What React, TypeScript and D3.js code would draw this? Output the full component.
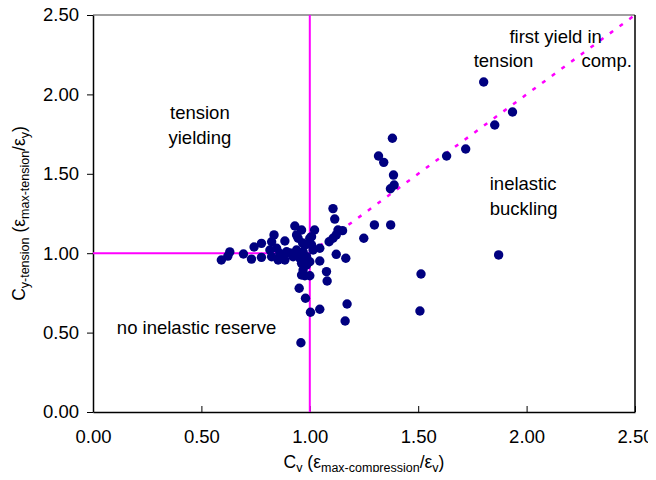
import { useEffect, useRef } from "react";
import * as d3 from "d3";

const W = 656;
const H = 480;
const M = { top: 15, right: 21, bottom: 68, left: 93 };
const IW = W - M.left - M.right;
const IH = H - M.top - M.bottom;

const FONT = '"Liberation Sans", Arial, sans-serif';
const DOT = "#000080";
const MAGENTA = "#FF00FF";

const TICKS = [0, 0.5, 1, 1.5, 2, 2.5];

// C_y (compression) values
const CY_COMP = [
  0.592, 0.631, 0.622, 0.694, 0.731, 0.743, 0.777, 0.777, 0.824, 0.835,
  0.816, 0.824, 0.854, 0.885, 0.847, 0.893, 0.862, 0.885, 0.923, 0.931,
  0.962, 0.939, 0.946, 1.008, 0.977, 1.008, 0.939, 0.969, 0.954, 0.985,
  1.015, 1.0, 0.969, 0.908, 0.946, 0.962, 0.985, 0.969, 1.0, 0.962,
  0.951, 0.98, 1.003, 1.046, 0.959, 1.046, 1.077, 1.08, 1.122, 1.166,
  1.046, 1.089, 1.107, 1.13, 1.151, 1.107, 1.115, 1.249, 1.298, 1.373,
  1.381, 1.317, 1.341, 1.386, 1.389, 1.372, 1.172, 1.163, 1.513, 1.508,
  1.631, 1.719, 1.853, 1.802, 1.935, 1.871, 1.022, 0.877, 1.0, 0.967,
  0.977, 1.122,
];

// C_y (tension) values
const CY_TENS = [
  0.957, 1.008, 0.982, 0.995, 0.963, 1.039, 1.062, 0.974, 1.072, 1.115,
  1.02, 0.978, 0.957, 1.077, 1.031, 1.009, 0.999, 0.957, 0.978, 1.171,
  1.146, 1.115, 1.094, 1.104, 1.052, 1.052, 1.02, 1.009, 0.968, 0.978,
  1.02, 0.946, 0.946, 1.001, 0.993, 0.936, 0.926, 0.894, 0.858, 0.863,
  0.779, 0.716, 0.628, 0.647, 0.436, 0.951, 0.884, 0.825, 0.993, 0.968,
  1.031, 1.072, 1.094, 1.146, 1.142, 1.281, 1.215, 1.094, 1.178, 1.178,
  1.724, 1.612, 1.572, 1.492, 1.429, 1.406, 0.68, 0.573, 0.869, 0.636,
  1.612, 1.656, 1.807, 2.078, 1.889, 0.989, 1.146, 0.968, 1.094, 1.064,
  0.858, 1.115,
];

// reference lines: [x1, y1, x2, y2, dashed]
const REF_LINES: [number, number, number, number, boolean][] = [
  [0, 1, 1, 1, false],
  [1, 0, 1, 2.5, false],
  [1, 1, 2.5, 2.5, true],
];

const NOTES = [
  { x: 0.493, y: 1.845, lines: ["tension", "yielding"], anchor: "middle" },
  { x: 1.83, y: 1.4, lines: ["inelastic", "buckling"], anchor: "start" },
  { x: 2.134, y: 2.324, lines: ["first yield in"], anchor: "middle" },
  { x: 1.756, y: 2.173, lines: ["tension"], anchor: "start" },
  { x: 2.253, y: 2.173, lines: ["comp."], anchor: "start" },
  { x: 0.11, y: 0.49, lines: ["no inelastic reserve"], anchor: "start" },
];

export default function App() {
  const ref = useRef<SVGSVGElement>(null);

  useEffect(() => {
    const svg = d3.select(ref.current);
    svg.selectAll("*").remove();

    const x = d3.scaleLinear().domain([0, 2.5]).range([0, IW]);
    const y = d3.scaleLinear().domain([0, 2.5]).range([IH, 0]);

    const g = svg.append("g").attr("transform", `translate(${M.left},${M.top})`);

    // plot border (top/right)
    g.append("line")
      .attr("x1", 0).attr("x2", IW).attr("y1", 0).attr("y2", 0)
      .attr("stroke", "#808080").attr("stroke-width", 1.5);
    g.append("line")
      .attr("x1", IW).attr("x2", IW).attr("y1", 0).attr("y2", IH)
      .attr("stroke", "#000").attr("stroke-width", 1.5);

    // x axis, ticks inside
    g.append("g")
      .attr("transform", `translate(0,${IH})`)
      .call(d3.axisBottom(x).tickValues(TICKS).tickFormat((v) => d3.format(".2f")(v as number)).tickSizeInner(-6).tickSizeOuter(0).tickPadding(18))
      .call((a) => a.select(".domain").attr("stroke", "#000").attr("stroke-width", 1.5))
      .call((a) => a.selectAll(".tick line").attr("stroke", "#000"))
      .call((a) => a.selectAll(".tick text").attr("font-size", 18.5).attr("font-family", FONT).attr("fill", "#000"));

    // y axis, ticks outside
    g.append("g")
      .call(d3.axisLeft(y).tickValues(TICKS).tickFormat((v) => d3.format(".2f")(v as number)).tickSizeInner(6).tickSizeOuter(0).tickPadding(8))
      .call((a) => a.select(".domain").attr("stroke", "#000").attr("stroke-width", 1.5))
      .call((a) => a.selectAll(".tick line").attr("stroke", "#000"))
      .call((a) => a.selectAll(".tick text").attr("font-size", 18.5).attr("font-family", FONT).attr("fill", "#000"));

    // reference lines
    g.selectAll(".ref")
      .data(REF_LINES)
      .join("line")
      .attr("x1", (d) => x(d[0]))
      .attr("y1", (d) => y(d[1]))
      .attr("x2", (d) => x(d[2]))
      .attr("y2", (d) => y(d[3]))
      .attr("stroke", MAGENTA)
      .attr("stroke-width", (d) => (d[4] ? 2.5 : 2))
      .attr("stroke-dasharray", (d) => (d[4] ? "4,8" : null));

    // points
    const pts = CY_COMP.map((c, i) => ({ c, t: CY_TENS[i] }));
    g.selectAll(".pt")
      .data(pts)
      .join("circle")
      .attr("cx", (d) => x(d.c))
      .attr("cy", (d) => y(d.t))
      .attr("r", 4.7)
      .attr("fill", DOT);

    // annotations
    NOTES.forEach((n) => {
      const t = g.append("text")
        .attr("x", x(n.x))
        .attr("y", y(n.y))
        .attr("text-anchor", n.anchor)
        .attr("font-size", 18.5)
        .attr("font-family", FONT)
        .attr("fill", "#000");
      n.lines.forEach((l, i) => {
        t.append("tspan").attr("x", x(n.x)).attr("dy", i === 0 ? 0 : 25).text(l);
      });
    });

    // x axis title
    const xt = svg.append("text")
      .attr("x", M.left + IW / 2)
      .attr("y", H - 12)
      .attr("text-anchor", "middle")
      .attr("font-size", 17.5)
      .attr("font-family", FONT);
    xt.append("tspan").text("C");
    xt.append("tspan").attr("font-size", 12.5).attr("dy", 4).text("y");
    xt.append("tspan").attr("dy", -4).text(" (ε");
    xt.append("tspan").attr("font-size", 12.5).attr("dy", 4).text("max-compression");
    xt.append("tspan").attr("dy", -4).text("/ε");
    xt.append("tspan").attr("font-size", 12.5).attr("dy", 4).text("y");
    xt.append("tspan").attr("dy", -4).text(")");

    // y axis title
    const yt = svg.append("text")
      .attr("transform", `translate(25,${M.top + IH / 2}) rotate(-90)`)
      .attr("text-anchor", "middle")
      .attr("font-size", 17.5)
      .attr("font-family", FONT);
    yt.append("tspan").text("C");
    yt.append("tspan").attr("font-size", 12.5).attr("dy", 4).text("y-tension");
    yt.append("tspan").attr("dy", -4).text(" (ε");
    yt.append("tspan").attr("font-size", 12.5).attr("dy", 4).text("max-tension");
    yt.append("tspan").attr("dy", -4).text("/ε");
    yt.append("tspan").attr("font-size", 12.5).attr("dy", 4).text("y");
    yt.append("tspan").attr("dy", -4).text(")");
  }, []);

  return (
    <div style={{ margin: -8 }}>
      <svg ref={ref} width={W} height={H} style={{ display: "block", background: "#fff" }} />
    </div>
  );
}
